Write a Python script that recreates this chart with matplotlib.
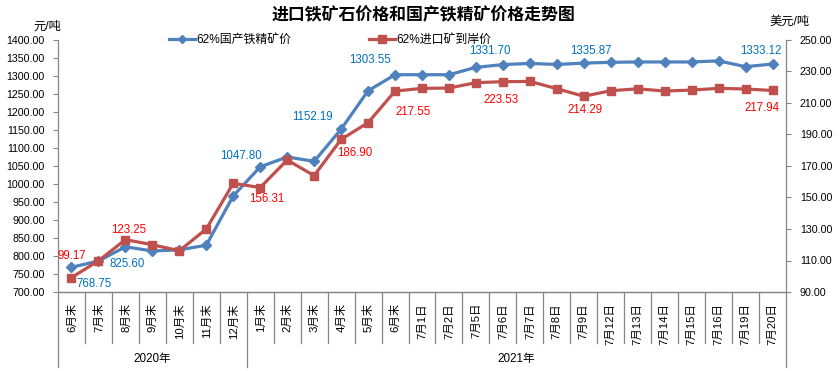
import matplotlib
matplotlib.use("Agg")
import matplotlib.pyplot as plt
import matplotlib.transforms as mtransforms
from matplotlib.lines import Line2D
import numpy as np

plt.rcParams['font.family'] = ['Liberation Sans', 'Noto Sans CJK SC', 'DejaVu Sans']

# ---------------- data ----------------
categories = ["6月末", "7月末", "8月末", "9月末", "10月末", "11月末", "12月末",
              "1月末", "2月末", "3月末", "4月末", "5月末", "6月末",
              "7月1日", "7月2日", "7月5日", "7月6日", "7月7日", "7月8日", "7月9日",
              "7月12日", "7月13日", "7月14日", "7月15日", "7月16日", "7月19日", "7月20日"]
groups = ["2020年", "2021年"]
group_sizes = [7, 20]

domestic = [768.75, 786, 825.60, 814, 817, 830, 967,
            1047.80, 1075, 1063, 1152.19, 1259, 1303.55,
            1303.55, 1303.55, 1324, 1331.70, 1335, 1332, 1335.87,
            1338, 1339, 1339, 1339, 1342, 1326, 1333.12]
imported = [99.17, 109.8, 123.25, 120.0, 116.2, 130.0, 159.0,
            156.31, 173.8, 163.9, 186.90, 197.5, 217.55,
            219.3, 219.5, 222.9, 223.53, 223.7, 219.1, 214.29,
            217.8, 219.0, 217.6, 218.2, 219.3, 218.9, 217.94]

left_ticks = np.arange(700, 1401, 50)
right_ticks = np.arange(90, 251, 20)

series_names = ["62%国产铁精矿价", "62%进口矿到岸价"]
title = "进口铁矿石价格和国产铁精矿价格走势图"

# labelled points: index -> offset in pixels (dx, dy)
blue_label_idx = [0, 2, 7, 10, 12, 16, 19, 26]
blue_label_off = [(23, -17), (2, -17), (-19, 11), (-29, 12), (-25, 15), (-13, 14), (7, 12), (-12, 13)]
red_label_idx = [0, 2, 7, 10, 12, 16, 19, 26]
red_label_off = [(0, 22), (3, 10), (7, -11), (14, -14), (18, -21), (-2, -18), (1, -14), (-11, -18)]

BLUE = "#4F81BD"
RED = "#C0504D"
GREY = "#868686"

# ---------------- figure ----------------
W, H = 840, 371
fig = plt.figure(figsize=(W / 100, H / 100), dpi=100)
L, R, T, B = 58, 786, 40, 292
ax = fig.add_axes([L / W, 1 - B / H, (R - L) / W, (B - T) / H])
ax2 = ax.twinx()

x = np.arange(len(categories))
ax.plot(x, domestic, color=BLUE, lw=2.3, marker='D', ms=5.5, mec=BLUE, mfc=BLUE, zorder=3)
ax2.plot(x, imported, color=RED, lw=2.3, marker='s', ms=6, mec=RED, mfc=RED, zorder=3)

ax.set_xlim(-0.5, len(categories) - 0.5)
ax.set_ylim(left_ticks[0], left_ticks[-1])
ax2.set_ylim(right_ticks[0], right_ticks[-1])

ax.set_yticks(left_ticks)
ax.set_yticklabels([f"{v:.2f}" for v in left_ticks], fontsize=7.7)
ax2.set_yticks(right_ticks)
ax2.set_yticklabels([f"{v:.2f}" for v in right_ticks], fontsize=7.7)

ax.set_xticks(x)
ax.set_xticklabels(categories, rotation=90, fontsize=8.2)
ax.tick_params(axis='x', length=0, pad=8)
ax.tick_params(axis='y', length=3.5, color=GREY, width=0.8, pad=6)
ax2.tick_params(axis='y', length=3.5, color=GREY, width=0.8, pad=6.5)

for a in (ax, ax2):
    a.spines['top'].set_visible(False)
    for s in ('left', 'right', 'bottom'):
        a.spines[s].set_color(GREY)
        a.spines[s].set_linewidth(0.9)
    a.patch.set_visible(False)
ax2.spines['left'].set_visible(False)
ax.spines['right'].set_visible(False)

# category dividers below the axis
trans = mtransforms.blended_transform_factory(ax.transData, ax.transAxes)
short = -51 / (B - T)
long_ = -75 / (B - T)
bounds = np.cumsum([0] + group_sizes) - 0.5
for b in np.arange(-0.5, len(categories), 1.0):
    is_group = np.any(np.isclose(bounds, b))
    ax.plot([b, b], [0, long_ if is_group else short], color=GREY, lw=0.9,
            transform=trans, clip_on=False)
for gi, g in enumerate(groups):
    cx = (bounds[gi] + bounds[gi + 1]) / 2
    ax.text(cx, -(359 - B) / (B - T), g, transform=trans, ha='center', va='center',
            fontsize=8.4)

# data labels
for i, (dx, dy) in zip(blue_label_idx, blue_label_off):
    ax.annotate(f"{domestic[i]:.2f}", (x[i], domestic[i]), xytext=(dx, dy),
                textcoords='offset pixels', ha='center', va='center',
                color="#0070C0", fontsize=8.3)
for i, (dx, dy) in zip(red_label_idx, red_label_off):
    ax2.annotate(f"{imported[i]:.2f}", (x[i], imported[i]), xytext=(dx, dy),
                 textcoords='offset pixels', ha='center', va='center',
                 color="#FF0000", fontsize=8.3)

# units
fig.text(33 / W, 1 - 27 / H, "元/吨", ha='left', va='center', fontsize=8.8)
fig.text(769 / W, 1 - 22 / H, "美元/吨", ha='left', va='center', fontsize=8.8)

# title
fig.text(423 / W, 1 - 15 / H, title, ha='center', va='center', fontsize=12.2,
         fontweight='bold')

# legend
handles = [Line2D([], [], color=BLUE, lw=2.3, marker='D', ms=4.5),
           Line2D([], [], color=RED, lw=2.3, marker='s', ms=5.5)]
fig.legend(handles, series_names, loc='center', bbox_to_anchor=(330 / W, 1 - 40 / H),
           ncol=2, frameon=False, fontsize=8.6, handlelength=2.2, handletextpad=0.1,
           columnspacing=6.5, borderpad=0.1)

fig.savefig("out.png", dpi=100)
